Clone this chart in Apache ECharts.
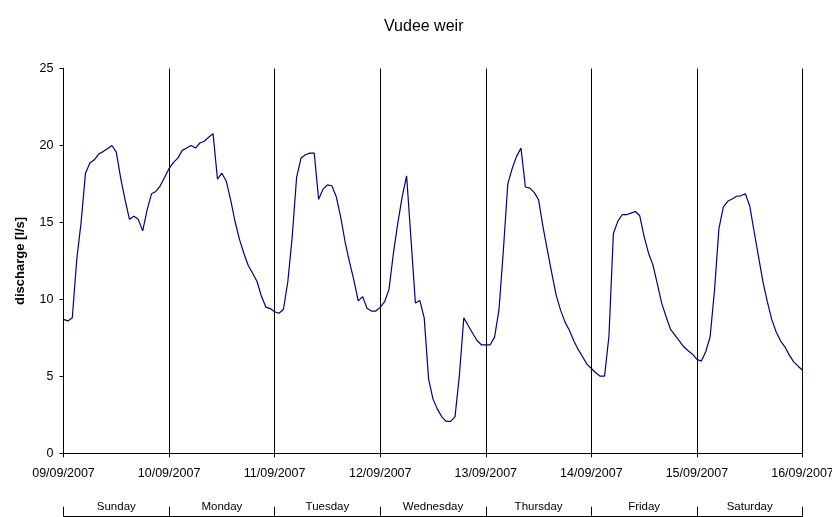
<!DOCTYPE html>
<html>
<head>
<meta charset="utf-8">
<script src="https://cdn.jsdelivr.net/npm/echarts@6/dist/echarts.min.js"></script>
<style>
html,body{margin:0;padding:0;background:#fff;}
#chart{width:832px;height:517px;}
</style>
</head>
<body>
<div id="chart"></div>
<script>
// tick labels
const dateLabels = ['09/09/2007','10/09/2007','11/09/2007','12/09/2007','13/09/2007','14/09/2007','15/09/2007','16/09/2007'];
const dayNames = ['Sunday','Monday','Tuesday','Wednesday','Thursday','Friday','Saturday'];

// hourly discharge [l/s], one array per day (24 values each, starting at 00:00)
const sunday    = [8.7, 8.6, 8.8, 12.56, 15.0, 18.2, 18.86, 19.07, 19.44, 19.6, 19.78, 20.0, 19.57, 17.88, 16.47, 15.2, 15.4, 15.2, 14.45, 15.8, 16.86, 17.01, 17.38, 17.94];
const monday    = [18.5, 18.9, 19.18, 19.68, 19.83, 20.0, 19.83, 20.16, 20.27, 20.53, 20.77, 17.82, 18.2, 17.68, 16.47, 15.06, 13.9, 13.0, 12.2, 11.7, 11.16, 10.2, 9.5, 9.4];
const tuesday   = [9.2, 9.1, 9.36, 11.16, 14.08, 17.95, 19.18, 19.4, 19.5, 19.5, 16.5, 17.16, 17.44, 17.38, 16.68, 15.38, 13.76, 12.46, 11.27, 9.9, 10.18, 9.42, 9.24, 9.24];
const wednesday = [9.48, 9.85, 10.65, 13.0, 14.95, 16.68, 18.03, 13.9, 9.77, 9.93, 8.8, 4.82, 3.52, 2.87, 2.37, 2.07, 2.07, 2.37, 5.07, 8.8, 8.3, 7.8, 7.33, 7.05];
const thursday  = [7.05, 7.05, 7.55, 9.33, 13.2, 17.5, 18.5, 19.29, 19.83, 17.3, 17.23, 16.95, 16.47, 14.73, 13.2, 11.7, 10.28, 9.3, 8.54, 8.0, 7.31, 6.75, 6.27, 5.79];
const friday    = [5.51, 5.23, 5.01, 5.01, 7.62, 14.26, 15.07, 15.5, 15.5, 15.6, 15.71, 15.43, 14.08, 13.0, 12.24, 11.0, 9.74, 8.87, 8.05, 7.68, 7.31, 6.92, 6.66, 6.44];
const saturday  = [6.1, 5.99, 6.6, 7.57, 10.6, 14.6, 16.0, 16.37, 16.52, 16.7, 16.73, 16.86, 16.08, 14.41, 12.78, 11.16, 9.85, 8.7, 7.9, 7.31, 6.92, 6.38, 5.94, 5.66];
const finalValue = [5.4];

const discharge = [].concat(sunday, monday, tuesday, wednesday, thursday, friday, saturday, finalValue);
const seriesData = discharge.map((v, i) => [i, v]);

const FONT = '"Liberation Sans", Arial, sans-serif';
const chart = echarts.init(document.getElementById('chart'), null, {renderer: 'canvas'});
chart.setOption({
  animation: false,
  backgroundColor: '#fff',
  title: {
    text: 'Vudee weir',
    left: 379,
    top: 14,
    textStyle: {fontFamily: FONT, fontSize: 16, fontWeight: 'normal', color: '#000'}
  },
  grid: {left: 63.5, right: 29.5, top: 68.5, bottom: 63.7, containLabel: false, outerBoundsMode: 'none'},
  xAxis: [
    {
      type: 'value',
      min: 0, max: 168, interval: 24,
      axisLine: {show: true, lineStyle: {color: '#000', width: 1}},
      axisTick: {show: true, length: 4, lineStyle: {color: '#000'}},
      splitLine: {show: true, lineStyle: {color: '#000', width: 1}},
      axisLabel: {
        margin: 14,
        hideOverlap: false,
        fontFamily: FONT, fontSize: 12.5, color: '#000',
        formatter: v => dateLabels[Math.round(v / 24)] || ''
      }
    },
    {
      type: 'category',
      data: dayNames,
      position: 'bottom',
      offset: 62.5,
      boundaryGap: true,
      axisLine: {show: true, lineStyle: {color: '#000', width: 1}},
      axisTick: {show: true, inside: true, length: 9, alignWithLabel: false, lineStyle: {color: '#000'}},
      axisLabel: {inside: true, margin: 3, fontFamily: FONT, fontSize: 11.5, color: '#000'},
      splitLine: {show: false}
    }
  ],
  yAxis: {
    type: 'value',
    min: 0, max: 25, interval: 5,
    name: 'discharge [l/s]',
    nameLocation: 'middle',
    nameGap: 37,
    nameTextStyle: {fontFamily: FONT, fontSize: 13, fontWeight: 'bold', color: '#000'},
    axisLine: {show: true, lineStyle: {color: '#000', width: 1}},
    axisTick: {show: true, length: 4, lineStyle: {color: '#000'}},
    splitLine: {show: false},
    axisLabel: {margin: 10, fontFamily: FONT, fontSize: 12.5, color: '#000'}
  },
  series: [{
    type: 'line',
    xAxisIndex: 0,
    data: seriesData,
    showSymbol: false,
    symbol: 'none',
    lineStyle: {color: '#000080', width: 1.2},
    itemStyle: {color: '#000080'}
  }]
});
</script>
</body>
</html>
